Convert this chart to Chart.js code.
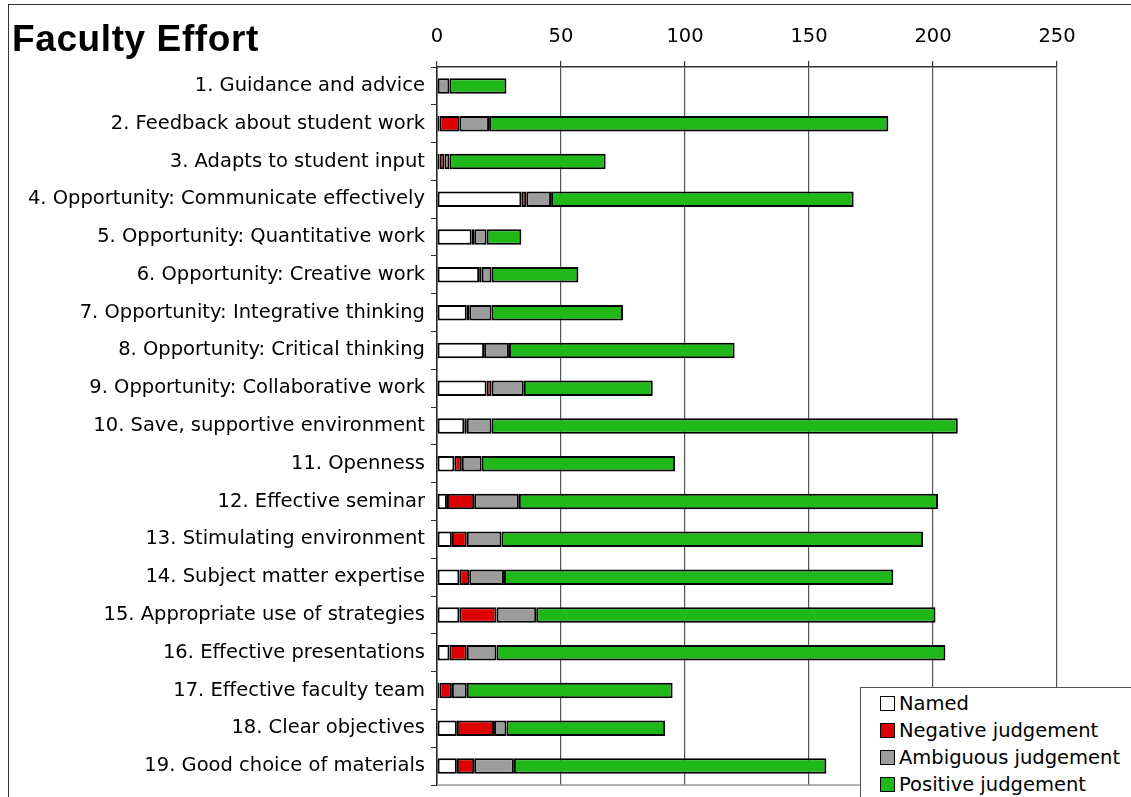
<!DOCTYPE html>
<html>
<head>
<meta charset="utf-8">
<script src="https://cdn.jsdelivr.net/npm/chart.js@4/dist/chart.umd.min.js"></script>
<style>
  body { margin: 0; overflow: hidden; background: #fff; }
  #wrap { position: absolute; left: 0; top: 0; width: 1131px; height: 797px; }
  #frame { position: absolute; left: 8px; top: 4px; width: 1200px; height: 900px;
           border-left: 1px solid #333; border-top: 1px solid #333; }
  #title { position: absolute; left: 12px; top: 18px; font: bold 37px "Liberation Sans", Arial, sans-serif;
           letter-spacing: 0.6px; color: #000; }
  #custom-legend { position: absolute; left: 860px; top: 687px; width: 300px; height: 130px;
                   border: 1px solid #555; background: #fff; padding-top: 2px; box-sizing: border-box; }
  #custom-legend p { margin: 0; height: 27px; display: flex; align-items: center;
                     font: 19.5px "DejaVu Sans", Verdana, sans-serif; color: #000; }
  #custom-legend .box { width: 13px; height: 13px; border: 1.5px solid #000; margin: 0 4px 0 19px; }
</style>
</head>
<body>
<div id="wrap"><canvas id="barChart"></canvas></div>
<div id="frame"></div>
<div id="title">Faculty Effort</div>
<div id="custom-legend"></div>
<script>
const labels = [
  "1. Guidance and advice",
  "2. Feedback about student work",
  "3. Adapts to student input",
  "4. Opportunity: Communicate effectively",
  "5. Opportunity: Quantitative work",
  "6. Opportunity: Creative work",
  "7. Opportunity: Integrative thinking",
  "8. Opportunity: Critical thinking",
  "9. Opportunity: Collaborative work",
  "10. Save, supportive environment",
  "11. Openness",
  "12. Effective seminar",
  "13. Stimulating environment",
  "14. Subject matter expertise",
  "15. Appropriate use of strategies",
  "16. Effective presentations",
  "17. Effective faculty team",
  "18. Clear objectives",
  "19. Good choice of materials"
];
const named     = [0, 1, 1, 34, 14, 17, 12, 19, 20, 11, 7, 4, 6, 9, 9, 5, 1, 8, 8];
const negative  = [0, 8, 2, 2, 1, 1, 1, 0, 2, 1, 3, 11, 6, 4, 15, 7, 5, 15, 7];
const ambiguous = [5, 12, 2, 10, 5, 4, 9, 10, 13, 10, 8, 18, 14, 14, 16, 12, 6, 5, 16];
const positive  = [23, 161, 63, 122, 14, 35, 53, 91, 52, 188, 78, 169, 170, 157, 161, 181, 83, 64, 126];

const seriesNames = ["Named", "Negative judgement", "Ambiguous judgement", "Positive judgement"];
const seriesColors = ["#ffffff", "#dd0000", "#9c9c9c", "#20b818"];
const seriesValues = [named, negative, ambiguous, positive];

const axisFont = { family: "DejaVu Sans", size: 19.5 };

// bottom edge of the plot frame
const frameBottom = {
  id: 'frameBottom',
  afterDraw(chart) {
    const { ctx, chartArea } = chart;
    ctx.save();
    ctx.strokeStyle = '#999';
    ctx.lineWidth = 1.5;
    ctx.beginPath();
    ctx.moveTo(chartArea.left, chartArea.bottom);
    ctx.lineTo(chartArea.right, chartArea.bottom);
    ctx.stroke();
    ctx.restore();
  }
};

const ctx = document.getElementById('barChart').getContext('2d');
new Chart(ctx, {
  type: 'bar',
  data: {
    labels,
    datasets: seriesNames.map((name, i) => ({
      label: name,
      data: seriesValues[i],
      backgroundColor: seriesColors[i],
      borderColor: '#000',
      borderWidth: 2,
      borderSkipped: false,
      barPercentage: 0.41,
      categoryPercentage: 1.0
    }))
  },
  options: {
    indexAxis: 'y',
    responsive: true,
    maintainAspectRatio: false,
    animation: false,
    layout: { padding: { left: 0, top: 0, right: 74, bottom: 12 } },
    scales: {
      x: {
        position: 'top',
        stacked: true,
        min: 0,
        max: 250,
        ticks: { stepSize: 50, color: '#000', font: axisFont, padding: 12 },
        grid: { color: '#555', lineWidth: 1.2, tickLength: 6, tickColor: '#333' },
        border: { color: '#333', width: 1.5 },
        afterFit(scale) { scale.height = 67; }
      },
      y: {
        stacked: true,
        ticks: { color: '#000', font: axisFont, padding: 6, autoSkip: false },
        grid: { drawOnChartArea: false, offset: true, tickLength: 6, color: '#333' },
        border: { color: '#222', width: 1.5 },
        afterFit(scale) {
          scale.width = 437;
          scale.paddingTop = 0;
          scale.paddingBottom = 0;
        }
      }
    },
    plugins: {
      legend: { display: false },
      tooltip: { enabled: false }
    }
  },
  plugins: [frameBottom]
});

// Custom legend
const legendContainer = document.getElementById("custom-legend");
legendContainer.innerHTML = seriesNames.map((name, i) => `
  <p><span class="box" style="background:${seriesColors[i]}"></span><span>${name}</span></p>
`).join('');
</script>
</body>
</html>
